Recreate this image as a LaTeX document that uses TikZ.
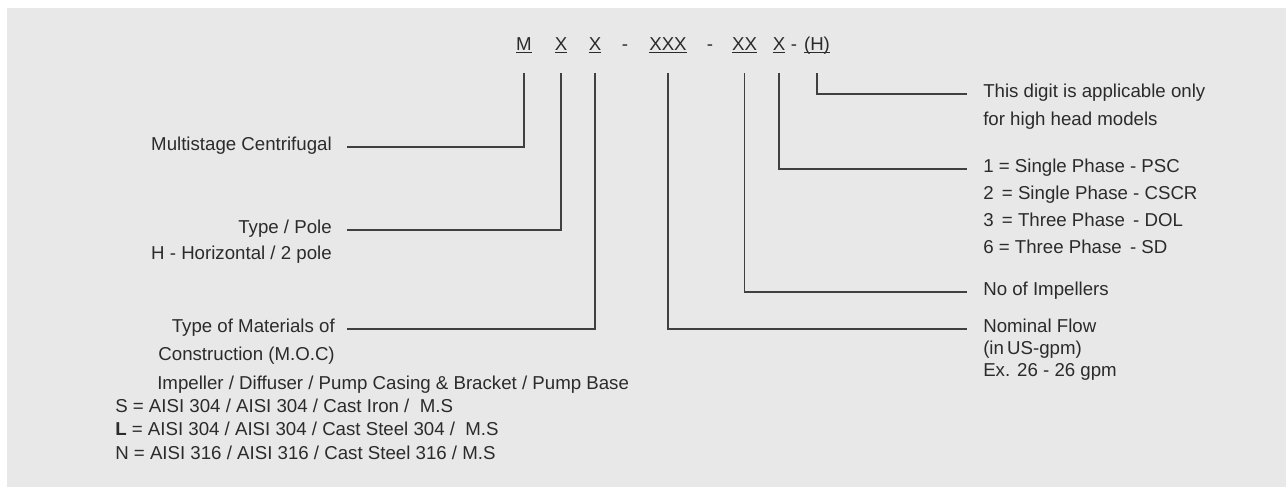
\documentclass[tikz,border=0pt]{standalone}
\usepackage{fontspec}
\setmainfont{Liberation Sans}
\usetikzlibrary{positioning}
\definecolor{bggray}{HTML}{E7E8E7}
\definecolor{ink}{HTML}{2B2B2B}
\definecolor{wireg}{HTML}{404040}
\newcommand{\ulcode}[1]{\underline{\smash{#1}}}

\begin{document}
\begin{tikzpicture}[
  x=0.75pt, y=-0.75pt,
  font=\fontsize{14}{17.5}\selectfont,
  text=ink,
  wire/.style={draw=wireg, line width=1pt},
  code/.style={anchor=base, inner sep=0pt},
  lftlab/.style={anchor=mid east, inner xsep=11.25pt, inner ysep=0pt},
  rgtlab/.style={anchor=mid west, inner xsep=12pt, inner ysep=0pt},
  plain/.style={anchor=mid west, inner sep=0pt},
]
\useasboundingbox (0,0) rectangle (1286,487);
\fill[bggray] (7,8) rectangle (1286,487);

% ---------- model code ----------
\node[code] (cM)    at (524,50)   {\ulcode{M}};
\node[code] (cType) at (561,50)   {\ulcode{X}};
\node[code] (cMoc)  at (595,50)   {\ulcode{X}};
\node[code] (dash1) at (625,50)   {-};
\node[code] (cFlow) at (668,50)   {\ulcode{XXX}};
\node[code] (dash2) at (710,50)   {-};
\node[code] (cImp)  at (744.5,50) {\ulcode{XX}};
\node[code] (cPh)   at (779,50)   {\ulcode{X}};
\node[code] (dash3) at (794,50)   {-};
\node[code] (cH)    at (817,50)   {\ulcode{(H)}};
\coordinate (top) at (0,73);

% ---------- left side ----------
\node[lftlab] (multi) at (347,147) {Multistage Centrifugal};
\node[lftlab] (pole) at (347,230) {Type / Pole};
\node[lftlab, below=19.5pt of pole.base east, anchor=base east] (pole2) {H - Horizontal / 2 pole};
\node[lftlab, inner xsep=9pt] (moc) at (347,329) {Type of Materials of};
\node[lftlab, inner xsep=9pt, below=21pt of moc.base east, anchor=base east] (moc2)
  {Construction (M.O.C)};

% materials table
\node[plain] (matHead) at (157,386) {Impeller / Diffuser / Pump Casing \& Bracket / Pump Base};
\node[plain] (matS) at (115,409) {S = AISI 304 / AISI 304 / Cast Iron / \ M.S};
\node[plain, below=17.5pt of matS.base west, anchor=base west] (matL)
  {\textbf{L} = AISI 304 / AISI 304 / Cast Steel 304 / \ M.S};
\node[plain, below=17.5pt of matL.base west, anchor=base west] (matN)
  {N = AISI 316 / AISI 316 / Cast Steel 316 / M.S};

% ---------- right side ----------
\node[rgtlab] (hnote) at (967,94) {This digit is applicable only};
\node[rgtlab, below=21pt of hnote.base west, anchor=base west] (hnote2) {for high head models};

\node[rgtlab] (ph1) at (967,169) {1 = Single Phase - PSC};
\node[rgtlab, below=20.25pt of ph1.base west, anchor=base west] (ph2) {2\, = Single Phase - CSCR};
\node[rgtlab, below=20.25pt of ph2.base west, anchor=base west] (ph3) {3\, = Three Phase\, - DOL};
\node[rgtlab, below=20.25pt of ph3.base west, anchor=base west] (ph4) {6 = Three Phase\, - SD};

\node[rgtlab] (imp) at (967,292) {No of Impellers};

\node[rgtlab] (flow) at (967,329) {Nominal Flow};
\node[rgtlab, below=16.5pt of flow.base west, anchor=base west] (flow2) {(in\,US-gpm)};
\node[rgtlab, below=16.5pt of flow2.base west, anchor=base west] (flow3) {Ex. 26 - 26 gpm};

% ---------- leader lines ----------
\draw[wire] (cM |- top) |- (multi.mid east);
\draw[wire] (cType |- top) |- (pole.mid east);
\draw[wire] (cMoc |- top) |- (moc.mid east);
\draw[wire] (cFlow |- top) |- (flow.mid west);
\draw[wire] (cImp |- top) |- (imp.mid west);
\draw[wire] (cPh |- top) |- (ph1.mid west);
\draw[wire] (cH |- top) |- (hnote.mid west);

\end{tikzpicture}
\end{document}
